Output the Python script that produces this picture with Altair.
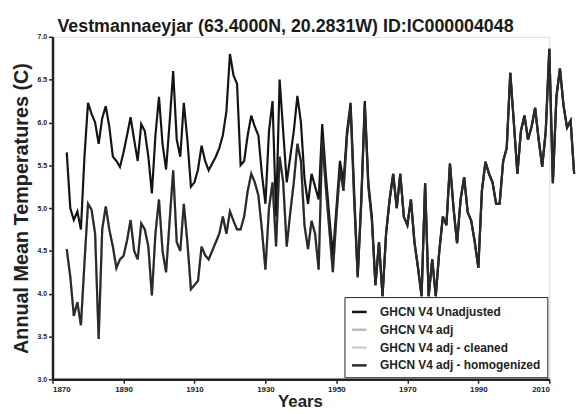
import altair as alt
import pandas as pd

# ---- data ----
years_early = list(range(1874, 1961))
unadjusted_early = [
    5.65, 5.00, 4.86, 4.96, 4.75, 5.60, 6.23, 6.10, 6.00, 5.75,   # 1874-1883
    6.05, 6.19, 5.95, 5.60, 5.55, 5.48, 5.65, 5.85, 6.06, 5.80,   # 1884-1893
    5.55, 5.98, 5.90, 5.60, 5.17, 5.85, 6.30, 5.75, 5.45, 6.00,   # 1894-1903
    6.60, 5.80, 5.60, 6.23, 5.80, 5.25, 5.30, 5.45, 5.73, 5.55,   # 1904-1913
    5.44, 5.52, 5.60, 5.70, 5.85, 6.13, 6.80, 6.55, 6.45, 5.50,   # 1914-1923
    5.55, 5.85, 6.08, 5.95, 5.85, 5.40, 5.05, 5.90, 6.25, 4.90,   # 1924-1933
    6.50, 5.90, 5.30, 5.60, 5.90, 6.31, 6.00, 5.35, 5.05, 5.40,   # 1934-1943
    5.25, 5.10, 5.98, 5.40, 4.90, 4.44, 5.00, 5.55, 5.30, 5.90,   # 1944-1953
    6.23, 5.20, 4.21, 5.10, 6.25, 5.30, 4.90,                     # 1954-1960
]
homogenized_early = [
    4.52, 4.20, 3.74, 3.90, 3.63, 4.36, 5.05, 4.98, 4.70, 3.47,   # 1874-1883
    4.75, 5.02, 4.75, 4.55, 4.30, 4.40, 4.44, 4.62, 4.86, 4.50,   # 1884-1893
    4.40, 4.82, 4.75, 4.55, 3.98, 4.70, 5.10, 4.50, 4.25, 4.85,   # 1894-1903
    5.44, 4.60, 4.50, 5.05, 4.60, 4.05, 4.10, 4.15, 4.55, 4.45,   # 1904-1913
    4.40, 4.50, 4.60, 4.70, 4.90, 4.70, 4.96, 4.85, 4.75, 4.75,   # 1914-1923
    4.90, 5.20, 5.40, 5.30, 5.15, 4.75, 4.28, 5.00, 5.30, 4.55,   # 1924-1933
    5.60, 5.30, 4.55, 4.95, 5.30, 5.75, 5.55, 4.80, 4.52, 4.85,   # 1934-1943
    4.70, 4.28, 5.80, 5.25, 4.75, 4.25, 4.90, 5.45, 5.20, 5.85,   # 1944-1953
    6.18, 5.10, 4.19, 5.05, 6.20, 5.25, 4.85,                     # 1954-1960
]
years_recent = list(range(1961, 2018))
shared_recent = [
    4.10, 4.60, 3.97, 4.70, 5.10, 5.40, 5.00, 5.40, 4.90, 4.80,   # 1961-1970
    5.10, 4.60, 4.30, 3.97, 5.29, 3.97, 4.40, 3.97, 4.50, 4.90,   # 1971-1980
    4.80, 5.52, 5.00, 4.59, 5.10, 5.36, 4.95, 4.85, 4.60, 4.30,   # 1981-1990
    5.20, 5.54, 5.40, 5.30, 5.05, 5.05, 5.55, 5.70, 6.58, 6.00,   # 1991-2000
    5.40, 5.90, 6.08, 5.80, 5.95, 6.17, 5.80, 5.48, 5.90, 6.86,   # 2001-2010
    5.29, 6.30, 6.63, 6.20, 5.94, 6.02, 5.40,                     # 2011-2017
]

series_names = ["GHCN V4 Unadjusted", "GHCN V4 adj", "GHCN V4 adj - cleaned",
                "GHCN V4 adj - homogenized"]
series_colors = ["#141414", "#bdbdbd", "#cfcfcf", "#2a2a2a"]
x_ticks = [1870, 1890, 1910, 1930, 1950, 1970, 1990, 2010]
y_ticks = [3.0, 3.5, 4.0, 4.5, 5.0, 5.5, 6.0, 6.5, 7.0]

years_all = years_early + years_recent
unadjusted = unadjusted_early + shared_recent
homogenized = homogenized_early + shared_recent
series_values = {
    "GHCN V4 Unadjusted": unadjusted,
    "GHCN V4 adj": homogenized,
    "GHCN V4 adj - cleaned": homogenized,
    "GHCN V4 adj - homogenized": homogenized,
}

rows = []
for name in series_names:
    for y, v in zip(years_all, series_values[name]):
        rows.append({"year": y, "temp": v, "series": name})
df = pd.DataFrame(rows)

FONT = "Liberation Sans"

color = alt.Color(
    "series:N",
    scale=alt.Scale(domain=series_names, range=series_colors),
    legend=alt.Legend(
        title=None, orient="none", legendX=295, legendY=263,
        symbolType="stroke", symbolSize=220, symbolStrokeWidth=2.5,
        labelFont=FONT, labelFontSize=12, labelFontWeight="bold", labelLimit=300,
        labelColor="#222222", rowPadding=3, padding=6, labelOffset=12,
        strokeColor="#222222", fillColor="white",
    ),
)

x_enc = alt.X(
    "year:Q",
    scale=alt.Scale(domain=[1870, 2010], nice=False, zero=False),
    axis=alt.Axis(
        values=x_ticks, format="d", grid=False,
        labelFont=FONT, labelFontSize=8, labelFontWeight="bold", labelColor="#222222",
        tickSize=4, tickColor="#222222", tickWidth=1.5,
        domainColor="#222222", domainWidth=2.5,
        title="Years", titleFont=FONT, titleFontSize=17, titleFontWeight="bold",
        titleColor="#222222", titlePadding=1, titleX=250,
    ),
)
y_enc = alt.Y(
    "temp:Q",
    scale=alt.Scale(domain=[3.0, 7.0], nice=False, zero=False),
    axis=alt.Axis(
        values=y_ticks, format=".1f", grid=False,
        labelFont=FONT, labelFontSize=7, labelFontWeight="bold", labelColor="#222222",
        tickSize=4, tickColor="#222222", tickWidth=1.5,
        domainColor="#222222", domainWidth=2.5,
        title="Annual Mean Temperatures (C)", titleFont=FONT, titleFontSize=20,
        titleFontWeight="bold", titleColor="#222222", titlePadding=6,
    ),
)

base = alt.Chart(df)
gray = base.transform_filter(
    alt.FieldOneOfPredicate(field="series", oneOf=[series_names[1], series_names[2]])
).mark_line(strokeWidth=2.2, clip=False).encode(
    x=x_enc, y=y_enc, color=color, detail="series:N"
)
dark = base.transform_filter(
    alt.FieldOneOfPredicate(field="series", oneOf=[series_names[0], series_names[3]])
).mark_line(strokeWidth=2.2, clip=False).encode(
    x=x_enc, y=y_enc, color=color, detail="series:N"
)

chart = alt.layer(gray, dark).properties(
    width=502, height=346,
    autosize=alt.AutoSizeParams(type="none"),
    padding={"left": 45, "top": 27, "right": 30, "bottom": 33},
    title=alt.TitleParams(
        "Vestmannaeyjar (63.4000N, 20.2831W) ID:IC000004048",
        anchor="start", frame="group", dx=5, offset=-3,
        font=FONT, fontSize=18, fontWeight="bold", color="#1a1a1a",
    ),
).configure_view(stroke=None).configure(background="white")

chart.save("out.html", embed_options={"renderer": "svg", "actions": False})
